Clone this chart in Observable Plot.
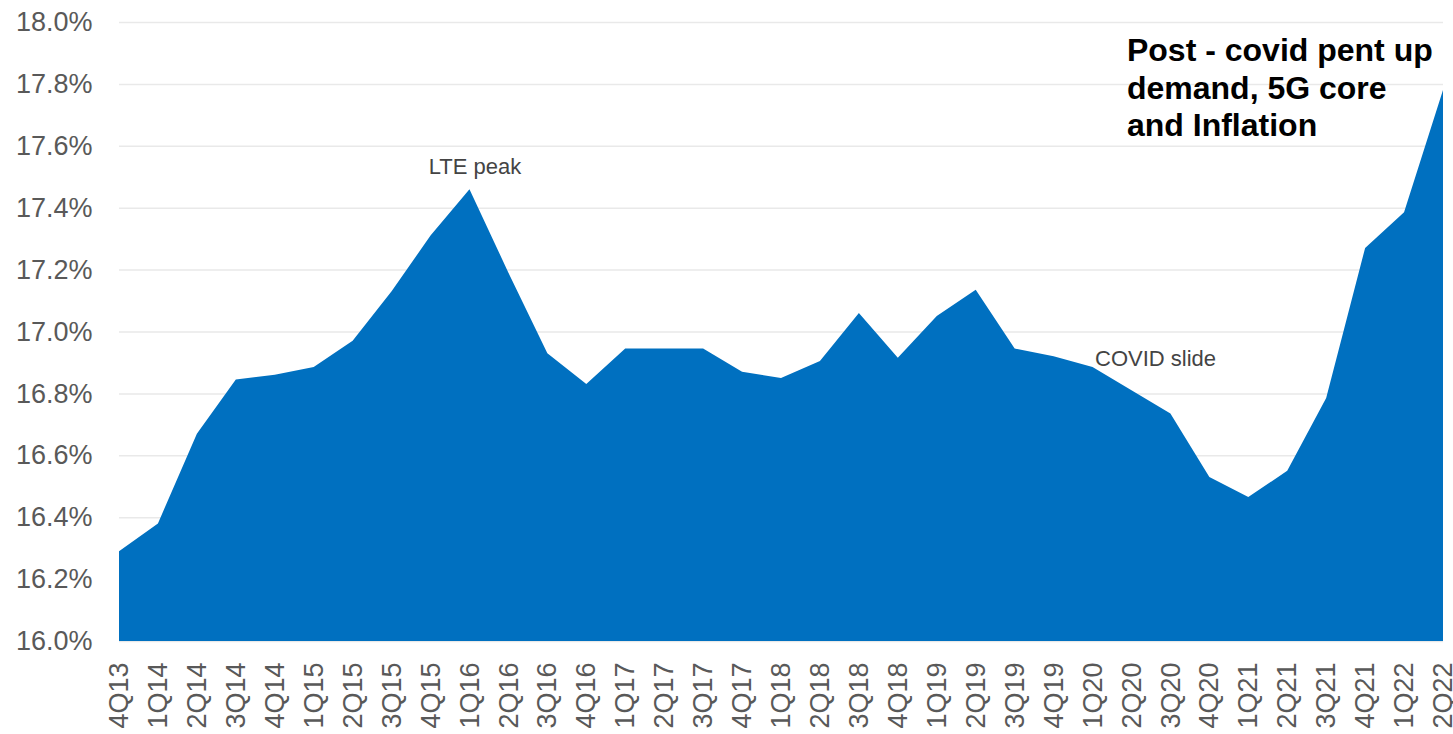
<!DOCTYPE html>
<html>
<head>
<meta charset="utf-8">
<script src="https://cdn.jsdelivr.net/npm/d3@7"></script>
<script src="https://cdn.jsdelivr.net/npm/@observablehq/plot@0.6"></script>
<style>
  html, body { margin: 0; padding: 0; background: #fff; }
</style>
</head>
<body>
<div id="chart"></div>
<script>
const quarters = [
  "4Q13",
  "1Q14","2Q14","3Q14","4Q14",
  "1Q15","2Q15","3Q15","4Q15",
  "1Q16","2Q16","3Q16","4Q16",
  "1Q17","2Q17","3Q17","4Q17",
  "1Q18","2Q18","3Q18","4Q18",
  "1Q19","2Q19","3Q19","4Q19",
  "1Q20","2Q20","3Q20","4Q20",
  "1Q21","2Q21","3Q21","4Q21",
  "1Q22","2Q22"
];
const values = [
  16.29,
  16.38, 16.67, 16.845, 16.86,
  16.885, 16.97, 17.13, 17.31,
  17.46, 17.19, 16.93, 16.83,
  16.945, 16.945, 16.945, 16.87,
  16.85, 16.905, 17.06, 16.915,
  17.05, 17.135, 16.945, 16.92,
  16.885, 16.81, 16.735, 16.53,
  16.465, 16.55, 16.785, 17.27,
  17.385, 17.78
];
const yTicks = [16.0, 16.2, 16.4, 16.6, 16.8, 17.0, 17.2, 17.4, 17.6, 17.8, 18.0];
const noteTexts = ["LTE peak", "COVID slide"];
const noteQuarters = ["1Q16", "1Q20"];
const calloutText = "Post - covid pent up\ndemand, 5G core\nand Inflation";
const calloutQuarter = "2Q20";
const calloutValue = 18.0;

const data = quarters.map((q, i) => ({q, v: values[i]}));
const notes = noteTexts.map((t, i) => ({t, q: noteQuarters[i], v: values[quarters.indexOf(noteQuarters[i])]}));

const chart = Plot.plot({
  width: 1453,
  height: 734,
  marginLeft: 119,
  marginRight: 10,
  marginTop: 22,
  marginBottom: 93,
  style: {fontFamily: "'Liberation Sans', Arial, sans-serif", background: "#fff", overflow: "visible"},
  x: {type: "point", domain: quarters, padding: 0, label: null},
  y: {domain: [16, 18], label: null},
  marks: [
    Plot.gridY(yTicks, {stroke: "#e9e9e9", strokeOpacity: 1, strokeWidth: 1.5}),
    Plot.areaY(data, {x: "q", y1: 16, y2: "v", fill: "#0070C0"}),
    Plot.axisY({ticks: yTicks, tickFormat: d => d.toFixed(1) + "%", tickSize: 0, tickPadding: 27, fontSize: 27, fill: "#595959", label: null}),
    Plot.axisX({tickSize: 0, tickPadding: 21, tickRotate: -90, fontSize: 27, fill: "#595959", label: null}),
    Plot.text([notes[0]], {x: "q", y: "v", text: "t", dx: 5, dy: -16, textAnchor: "middle", lineAnchor: "bottom", fontSize: 22, fill: "#444"}),
    Plot.text([notes[1]], {x: "q", y: "v", text: "t", dx: 2, dy: -2, textAnchor: "start", lineAnchor: "bottom", fontSize: 22, fill: "#444"}),
    Plot.text([{t: calloutText, q: calloutQuarter, v: calloutValue}], {x: "q", y: "v", text: "t", dx: -5, dy: 12, textAnchor: "start", lineAnchor: "top", lineHeight: 1.17, fontSize: 32, fontWeight: "bold", fill: "#000"})
  ]
});
document.getElementById("chart").appendChild(chart);
</script>
</body>
</html>
